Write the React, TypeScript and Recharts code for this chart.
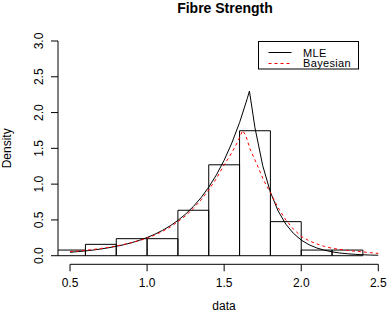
import {
  ComposedChart, Line, XAxis, YAxis, ReferenceArea, ReferenceLine, Legend, Label,
} from 'recharts'

// histogram of fibre strengths (density scale, bin width 0.2)
const binEdges = [0.4, 0.6, 0.8, 1.0, 1.2, 1.4, 1.6, 1.8, 2.0, 2.2, 2.4]
const binDensity = [0.079, 0.159, 0.238, 0.238, 0.635, 1.27, 1.746, 0.476, 0.079, 0.079]

// fitted densities
const mleX = [
  0.5, 0.55, 0.6, 0.65, 0.7, 0.75, 0.8, 0.85, 0.9, 0.95, 1.0, 1.05, 1.1, 1.15, 1.2, 1.25, 1.3,
  1.35, 1.4, 1.45, 1.5, 1.55, 1.6, 1.65, 1.664, 1.7, 1.75, 1.8, 1.85, 1.9, 1.95, 2.0, 2.05,
  2.1, 2.15, 2.2, 2.25, 2.3, 2.35, 2.4, 2.45, 2.5,
]
const mleY = [
  0.048, 0.057, 0.067, 0.079, 0.094, 0.111, 0.131, 0.154, 0.182, 0.215, 0.254, 0.3, 0.354,
  0.418, 0.493, 0.582, 0.687, 0.811, 0.958, 1.13, 1.335, 1.576, 1.86, 2.196, 2.3, 1.788, 1.26,
  0.888, 0.626, 0.441, 0.311, 0.219, 0.154, 0.109, 0.077, 0.054, 0.038, 0.027, 0.019, 0.013,
  0.009, 0.007,
]
const bayesX = [
  0.5, 0.55, 0.6, 0.65, 0.7, 0.75, 0.8, 0.85, 0.9, 0.95, 1.0, 1.05, 1.1, 1.15, 1.2, 1.25, 1.3,
  1.35, 1.4, 1.45, 1.5, 1.55, 1.58, 1.6, 1.62, 1.64, 1.67, 1.71, 1.755, 1.8, 1.85, 1.9, 1.95,
  2.0, 2.05, 2.1, 2.15, 2.2, 2.25, 2.3, 2.35, 2.4, 2.45, 2.5,
]
const bayesY = [
  0.056, 0.065, 0.075, 0.087, 0.101, 0.117, 0.136, 0.158, 0.183, 0.212, 0.245, 0.289, 0.34,
  0.4, 0.475, 0.56, 0.66, 0.78, 0.92, 1.08, 1.27, 1.44, 1.56, 1.65, 1.75, 1.68, 1.48, 1.29,
  1.06, 0.88, 0.67, 0.5, 0.37, 0.27, 0.21, 0.165, 0.13, 0.104, 0.088, 0.074, 0.063, 0.053,
  0.042, 0.033,
]

const xTicks = [0.5, 1.0, 1.5, 2.0, 2.5]
const yTicks = [0, 0.5, 1.0, 1.5, 2.0, 2.5, 3.0]

const FONT = '"Liberation Sans", Arial, Helvetica, sans-serif'

const bins = binDensity.map((h, i) => ({ x0: binEdges[i], x1: binEdges[i + 1], h }))
const mleData = mleX.map((x, i) => ({ x, y: mleY[i] }))
const bayesData = bayesX.map((x, i) => ({ x, y: bayesY[i] }))

function XTick({ x, payload }: any) {
  return (
    <text x={x} y={287} textAnchor="middle" fontSize={12} fontFamily={FONT} fill="#000">
      {payload.value.toFixed(1)}
    </text>
  )
}

function YTick({ y, payload }: any) {
  const bx = 43
  return (
    <text
      x={bx} y={y} transform={`rotate(-90, ${bx}, ${y})`}
      textAnchor="middle" fontSize={12} fontFamily={FONT} fill="#000"
    >
      {payload.value.toFixed(1)}
    </text>
  )
}

function LegendBox() {
  return (
    <svg width={101} height={29} style={{ display: 'block' }}>
      <rect x={0.5} y={0.5} width={100} height={27.5} fill="#fff" stroke="#000" />
      <line x1={10.5} x2={33.5} y1={11.5} y2={11.5} stroke="#000" />
      <line x1={10.5} x2={33.5} y1={22.5} y2={22.5} stroke="#ff0000" strokeDasharray="3 3" />
      <text x={45} y={15.5} fontSize={11} letterSpacing={0.35} fontFamily={FONT} fill="#000">MLE</text>
      <text x={45} y={26} fontSize={11} letterSpacing={0.35} fontFamily={FONT} fill="#000">Bayesian</text>
    </svg>
  )
}

export default function App() {
  return (
    <div style={{ position: 'absolute', left: 0, top: 0, width: 388, height: 320, background: '#fff' }}>
      <div
        style={{
          position: 'absolute', left: 0, width: 450, top: 0, textAlign: 'center',
          fontFamily: FONT, fontWeight: 'bold', fontSize: 14, lineHeight: '16px',
        }}
      >
        Fibre Strength
      </div>
      <ComposedChart width={388} height={320} margin={{ top: 32.4, right: 0, bottom: 0, left: 0 }}>
        <XAxis
          type="number" dataKey="x" domain={[0.422, 2.563]} ticks={xTicks} interval={0}
          allowDataOverflow axisLine={false} tickSize={7} tickLine={{ stroke: '#000' }}
          tick={XTick} height={55.7}
        >
          <Label
            content={({ viewBox }: any) => (
              <text x={viewBox.x + viewBox.width / 2 + 1} y={310} textAnchor="middle"
                fontSize={12} fontFamily={FONT} fill="#000">data</text>
            )}
          />
        </XAxis>
        <YAxis
          type="number" domain={[-0.12, 3.12]} ticks={yTicks} interval={0} allowDataOverflow
          axisLine={false} tickSize={7} tickLine={{ stroke: '#000' }} tick={YTick} width={58}
        >
          <Label
            content={({ viewBox }: any) => {
              const cy = viewBox.y + viewBox.height / 2
              return (
                <text x={11.5} y={cy} transform={`rotate(-90, 11.5, ${cy})`} textAnchor="middle"
                  fontSize={12} fontFamily={FONT} fill="#000">Density</text>
              )
            }}
          />
        </YAxis>

        {/* axis lines only span the tick range */}
        <ReferenceLine segment={[{ x: 0.5, y: -0.12 }, { x: 2.5, y: -0.12 }]} stroke="#000" ifOverflow="visible" />
        <ReferenceLine segment={[{ x: 0.422, y: 0 }, { x: 0.422, y: 3 }]} stroke="#000" ifOverflow="visible" />

        {bins.map((b, i) => (
          <ReferenceArea
            key={i} x1={b.x0} x2={b.x1} y1={0} y2={b.h}
            fill="none" fillOpacity={0} stroke="#000" strokeWidth={1} ifOverflow="hidden"
          />
        ))}

        <Line data={mleData} dataKey="y" type="linear" stroke="#000" strokeWidth={1}
          dot={false} activeDot={false} isAnimationActive={false} />
        <Line data={bayesData} dataKey="y" type="linear" stroke="#ff0000" strokeWidth={1}
          strokeDasharray="3 3" dot={false} activeDot={false} isAnimationActive={false} />

        <Legend
          layout="horizontal" align="center" verticalAlign="middle" content={LegendBox}
          wrapperStyle={{ position: 'absolute', left: 258, top: 41, width: 101, height: 29 }}
        />
      </ComposedChart>
    </div>
  )
}
